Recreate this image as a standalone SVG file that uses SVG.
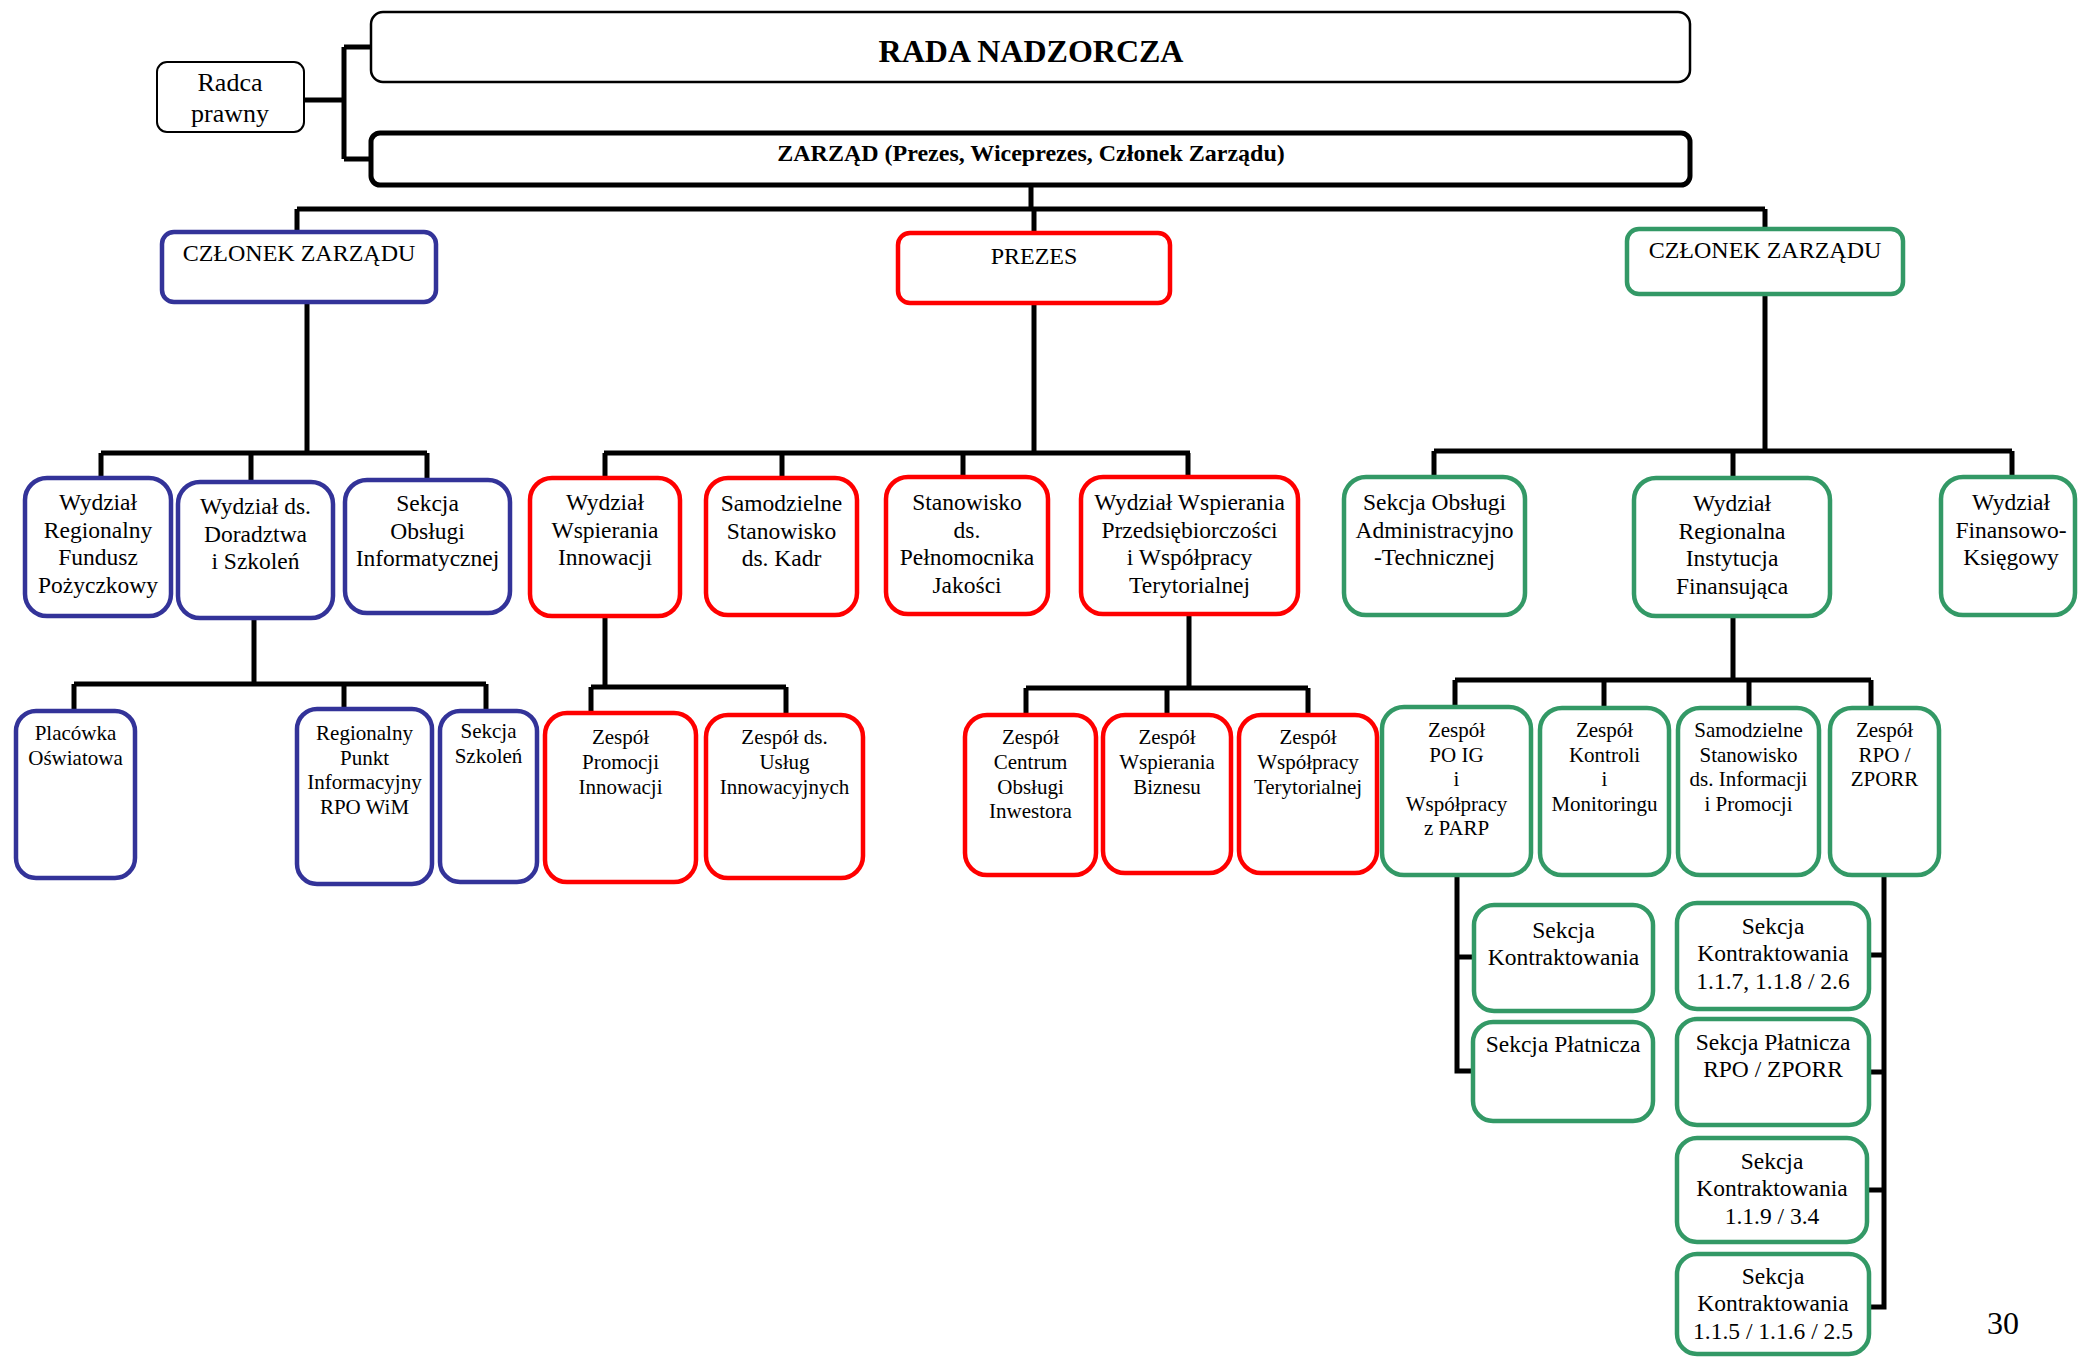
<svg xmlns="http://www.w3.org/2000/svg" width="2078" height="1358" viewBox="0 0 2078 1358">
<style>
text{font-family:"Liberation Serif","Times New Roman",serif;fill:#000;text-anchor:middle}
.f1{font-size:23.5px}
.f2{font-size:21px}
.f3{font-size:24px}
.bl rect{fill:#fff;stroke:#333399;stroke-width:4.5}
.rd rect{fill:#fff;stroke:#ff0000;stroke-width:4.5}
.gr rect{fill:#fff;stroke:#339966;stroke-width:4.5}
.con path{fill:none;stroke:#000;stroke-width:5;stroke-linejoin:miter}
</style>
<rect width="2078" height="1358" fill="#fff"/>
<g class="con">
<path d="M344 47 V159 M344 47 H371 M344 159 H371 M303 100 H344" stroke-width="4"/>
<path d="M1031 187 V209 M297 209 H1765 M297 209 V232 M1034 209 V233 M1765 209 V229"/>
<path d="M307 302 V453 M101 453 H427 M101 453 V478 M251 453 V482 M427 453 V480"/>
<path d="M254 618 V684 M74 684 H486 M74 684 V711 M344 684 V709 M486 684 V711"/>
<path d="M1034 303 V453 M604 453 H1190 M605 453 V478 M782 453 V478 M963 453 V477 M1188 453 V477"/>
<path d="M605 616 V687 M591 687 H786 M591 687 V713 M786 687 V715"/>
<path d="M1189 614 V688 M1026 688 H1308 M1026 688 V715 M1167 688 V715 M1308 688 V715"/>
<path d="M1765 294 V451 M1434 451 H2012 M1434 451 V477 M1733 451 V478 M2012 451 V477"/>
<path d="M1733 616 V680 M1455 680 H1871 M1455 680 V707 M1604 680 V708 M1749 680 V708 M1871 680 V708"/>
<path d="M1457 875 V1071 H1473 M1457 957 H1474"/>
<path d="M1884 875 V1307 H1869 M1869 955 H1884 M1869 1072 H1884 M1869 1190 H1884"/>
</g>
<g id="radca">
<rect x="157" y="62" width="147" height="70" rx="10" fill="#fff" stroke="#000" stroke-width="2"/>
<text font-size="26px" x="230" y="91">Radca</text>
<text font-size="26px" x="230" y="122">prawny</text>
</g>
<g id="rada">
<rect x="371" y="12" width="1319" height="70" rx="12" fill="#fff" stroke="#000" stroke-width="2.5"/>
<text x="1031" y="62" font-size="32px" font-weight="bold">RADA NADZORCZA</text>
</g>
<g id="zarzad">
<rect x="371" y="133" width="1319" height="52" rx="9" fill="#fff" stroke="#000" stroke-width="5"/>
<text x="1031" y="161" font-size="24px" font-weight="bold">ZARZĄD (Prezes, Wiceprezes, Członek Zarządu)</text>
</g>
<g id="czlonek-blue" class="bl"><rect x="162" y="232" width="274" height="70" rx="12"/><text class="f3" x="299" y="261">CZŁONEK ZARZĄDU</text></g>
<g id="prezes" class="rd"><rect x="898" y="233" width="272" height="70" rx="12"/><text class="f3" x="1034" y="264">PREZES</text></g>
<g id="czlonek-green" class="gr"><rect x="1627" y="229" width="276" height="65" rx="12"/><text class="f3" x="1765" y="258">CZŁONEK ZARZĄDU</text></g>

<g id="wrfp" class="bl"><rect x="25" y="478" width="146" height="138" rx="22"/><text class="f1" x="98" y="510"><tspan x="98">Wydział</tspan><tspan x="98" dy="27.7">Regionalny</tspan><tspan x="98" dy="27.7">Fundusz</tspan><tspan x="98" dy="27.7">Pożyczkowy</tspan></text></g>
<g id="wdds" class="bl"><rect x="178" y="482" width="155" height="136" rx="22"/><text class="f1" x="255.5" y="514"><tspan x="255.5">Wydział ds.</tspan><tspan x="255.5" dy="27.7">Doradztwa</tspan><tspan x="255.5" dy="27.7">i Szkoleń</tspan></text></g>
<g id="soi" class="bl"><rect x="345" y="480" width="165" height="133" rx="22"/><text class="f1" x="427.5" y="511"><tspan x="427.5">Sekcja</tspan><tspan x="427.5" dy="27.7">Obsługi</tspan><tspan x="427.5" dy="27.7">Informatycznej</tspan></text></g>
<g id="po" class="bl"><rect x="16" y="711" width="119" height="167" rx="20"/><text class="f2" x="75.5" y="740"><tspan x="75.5">Placówka</tspan><tspan x="75.5" dy="24.6">Oświatowa</tspan></text></g>
<g id="rpi" class="bl"><rect x="297" y="709" width="135" height="175" rx="20"/><text class="f2" x="364.5" y="740"><tspan x="364.5">Regionalny</tspan><tspan x="364.5" dy="24.6">Punkt</tspan><tspan x="364.5" dy="24.6">Informacyjny</tspan><tspan x="364.5" dy="24.6">RPO WiM</tspan></text></g>
<g id="ss" class="bl"><rect x="440" y="711" width="97" height="171" rx="20"/><text class="f2" x="488.5" y="738"><tspan x="488.5">Sekcja</tspan><tspan x="488.5" dy="24.6">Szkoleń</tspan></text></g>

<g id="wwi" class="rd"><rect x="530" y="478" width="150" height="138" rx="22"/><text class="f1" x="605" y="510"><tspan x="605">Wydział</tspan><tspan x="605" dy="27.7">Wspierania</tspan><tspan x="605" dy="27.7">Innowacji</tspan></text></g>
<g id="ssk" class="rd"><rect x="706" y="478" width="151" height="137" rx="22"/><text class="f1" x="781.5" y="511"><tspan x="781.5">Samodzielne</tspan><tspan x="781.5" dy="27.7">Stanowisko</tspan><tspan x="781.5" dy="27.7">ds. Kadr</tspan></text></g>
<g id="sdpj" class="rd"><rect x="886" y="477" width="162" height="137" rx="22"/><text class="f1" x="967" y="510"><tspan x="967">Stanowisko</tspan><tspan x="967" dy="27.7">ds.</tspan><tspan x="967" dy="27.7">Pełnomocnika</tspan><tspan x="967" dy="27.7">Jakości</tspan></text></g>
<g id="wwp" class="rd"><rect x="1081" y="477" width="217" height="137" rx="22"/><text class="f1" x="1189.5" y="510"><tspan x="1189.5">Wydział Wspierania</tspan><tspan x="1189.5" dy="27.7">Przedsiębiorczości</tspan><tspan x="1189.5" dy="27.7">i Współpracy</tspan><tspan x="1189.5" dy="27.7">Terytorialnej</tspan></text></g>
<g id="zpi" class="rd"><rect x="545" y="713" width="151" height="169" rx="22"/><text class="f2" x="620.5" y="744"><tspan x="620.5">Zespół</tspan><tspan x="620.5" dy="24.8">Promocji</tspan><tspan x="620.5" dy="24.8">Innowacji</tspan></text></g>
<g id="zdu" class="rd"><rect x="706" y="715" width="157" height="163" rx="22"/><text class="f2" x="784.5" y="744"><tspan x="784.5">Zespół ds.</tspan><tspan x="784.5" dy="24.8">Usług</tspan><tspan x="784.5" dy="24.8">Innowacyjnych</tspan></text></g>
<g id="zco" class="rd"><rect x="965" y="715" width="131" height="160" rx="22"/><text class="f2" x="1030.5" y="744"><tspan x="1030.5">Zespół</tspan><tspan x="1030.5" dy="24.8">Centrum</tspan><tspan x="1030.5" dy="24.8">Obsługi</tspan><tspan x="1030.5" dy="24.8">Inwestora</tspan></text></g>
<g id="zwb" class="rd"><rect x="1103" y="715" width="128" height="158" rx="22"/><text class="f2" x="1167" y="744"><tspan x="1167">Zespół</tspan><tspan x="1167" dy="24.8">Wspierania</tspan><tspan x="1167" dy="24.8">Biznesu</tspan></text></g>
<g id="zwt" class="rd"><rect x="1239" y="715" width="138" height="158" rx="22"/><text class="f2" x="1308" y="744"><tspan x="1308">Zespół</tspan><tspan x="1308" dy="24.8">Współpracy</tspan><tspan x="1308" dy="24.8">Terytorialnej</tspan></text></g>

<g id="soat" class="gr"><rect x="1344" y="477" width="181" height="138" rx="22"/><text class="f1" x="1434.5" y="510"><tspan x="1434.5">Sekcja Obsługi</tspan><tspan x="1434.5" dy="27.7">Administracyjno</tspan><tspan x="1434.5" dy="27.7">-Technicznej</tspan></text></g>
<g id="wrif" class="gr"><rect x="1634" y="478" width="196" height="138" rx="22"/><text class="f1" x="1732" y="511"><tspan x="1732">Wydział</tspan><tspan x="1732" dy="27.7">Regionalna</tspan><tspan x="1732" dy="27.7">Instytucja</tspan><tspan x="1732" dy="27.7">Finansująca</tspan></text></g>
<g id="wfk" class="gr"><rect x="1941" y="477" width="134" height="138" rx="22"/><text class="f1" x="2011" y="510"><tspan x="2011">Wydział</tspan><tspan x="2011" dy="27.7">Finansowo-</tspan><tspan x="2011" dy="27.7">Księgowy</tspan></text></g>
<g id="zpoig" class="gr"><rect x="1382" y="707" width="149" height="168" rx="22"/><text class="f2" x="1456.5" y="737"><tspan x="1456.5">Zespół</tspan><tspan x="1456.5" dy="24.6">PO IG</tspan><tspan x="1456.5" dy="24.6">i</tspan><tspan x="1456.5" dy="24.6">Współpracy</tspan><tspan x="1456.5" dy="24.6">z PARP</tspan></text></g>
<g id="zkm" class="gr"><rect x="1540" y="708" width="129" height="167" rx="22"/><text class="f2" x="1604.5" y="737"><tspan x="1604.5">Zespół</tspan><tspan x="1604.5" dy="24.6">Kontroli</tspan><tspan x="1604.5" dy="24.6">i</tspan><tspan x="1604.5" dy="24.6">Monitoringu</tspan></text></g>
<g id="ssip" class="gr"><rect x="1678" y="708" width="141" height="167" rx="22"/><text class="f2" x="1748.5" y="737"><tspan x="1748.5">Samodzielne</tspan><tspan x="1748.5" dy="24.6">Stanowisko</tspan><tspan x="1748.5" dy="24.6">ds. Informacji</tspan><tspan x="1748.5" dy="24.6">i Promocji</tspan></text></g>
<g id="zrpo" class="gr"><rect x="1830" y="708" width="109" height="167" rx="22"/><text class="f2" x="1884.5" y="737"><tspan x="1884.5">Zespół</tspan><tspan x="1884.5" dy="24.6">RPO /</tspan><tspan x="1884.5" dy="24.6">ZPORR</tspan></text></g>
<g id="sk1" class="gr"><rect x="1474" y="905" width="179" height="106" rx="20"/><text class="f1" x="1563.5" y="938"><tspan x="1563.5">Sekcja</tspan><tspan x="1563.5" dy="27">Kontraktowania</tspan></text></g>
<g id="sp1" class="gr"><rect x="1473" y="1022" width="180" height="99" rx="20"/><text class="f1" x="1563" y="1052">Sekcja Płatnicza</text></g>
<g id="sk2" class="gr"><rect x="1677" y="903" width="192" height="106" rx="20"/><text class="f1" x="1773" y="934"><tspan x="1773">Sekcja</tspan><tspan x="1773" dy="27.4">Kontraktowania</tspan><tspan x="1773" dy="27.4">1.1.7, 1.1.8 / 2.6</tspan></text></g>
<g id="sp2" class="gr"><rect x="1677" y="1019" width="192" height="106" rx="20"/><text class="f1" x="1773" y="1050"><tspan x="1773">Sekcja Płatnicza</tspan><tspan x="1773" dy="27.4">RPO / ZPORR</tspan></text></g>
<g id="sk3" class="gr"><rect x="1677" y="1138" width="190" height="104" rx="20"/><text class="f1" x="1772" y="1169"><tspan x="1772">Sekcja</tspan><tspan x="1772" dy="27.4">Kontraktowania</tspan><tspan x="1772" dy="27.4">1.1.9 / 3.4</tspan></text></g>
<g id="sk4" class="gr"><rect x="1677" y="1254" width="192" height="100" rx="20"/><text class="f1" x="1773" y="1284"><tspan x="1773">Sekcja</tspan><tspan x="1773" dy="27.4">Kontraktowania</tspan><tspan x="1773" dy="27.4">1.1.5 / 1.1.6 / 2.5</tspan></text></g>
<text x="2003" y="1334" font-size="32px">30</text>
</svg>
